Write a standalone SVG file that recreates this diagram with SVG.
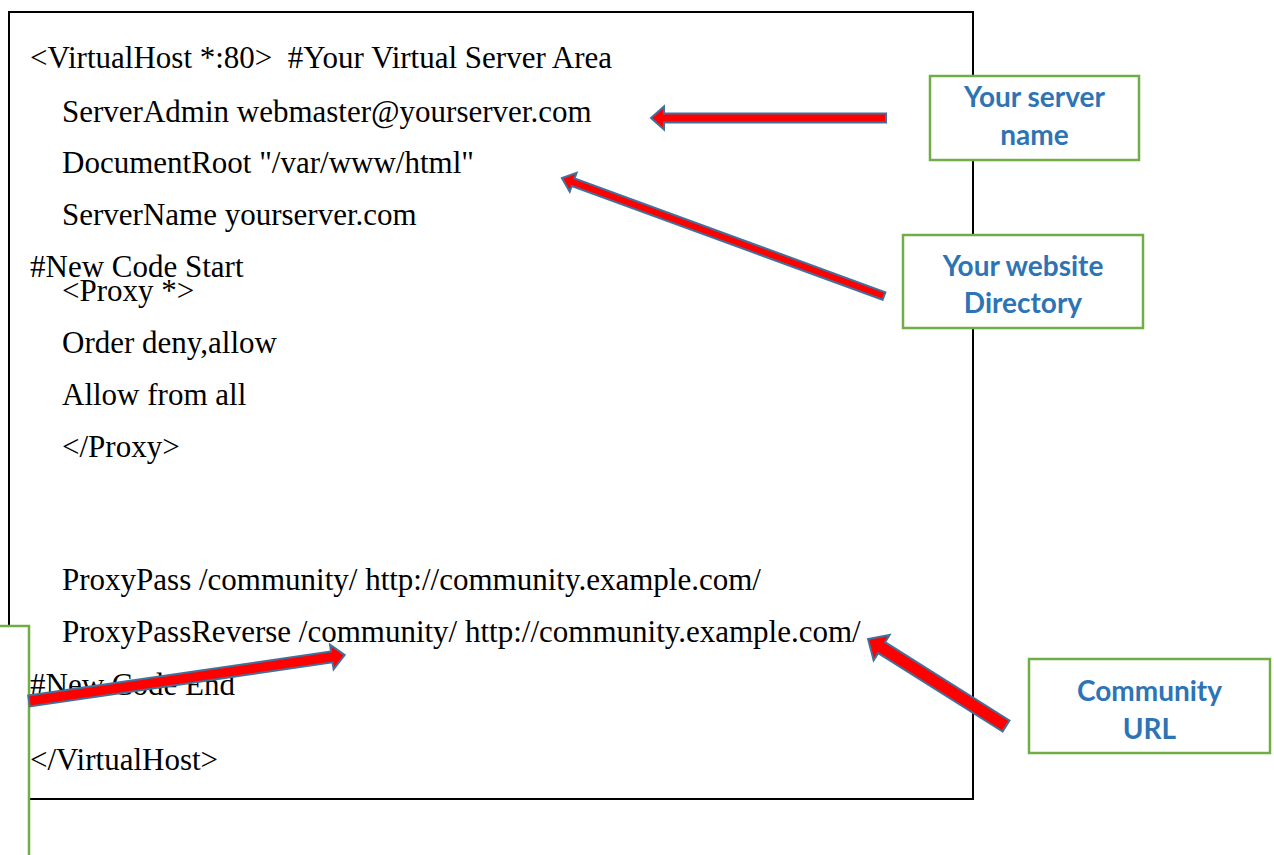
<svg xmlns="http://www.w3.org/2000/svg" width="1274" height="855" viewBox="0 0 1274 855">
<style>
.code{font-family:"Liberation Serif","Times New Roman",serif;font-size:31px;fill:#000}
.lbl{font-family:Lato,"Open Sans",sans-serif;font-weight:bold;font-size:28px;fill:#2E74B5;text-anchor:middle}
.gbox{fill:#fff;stroke:#70AD47;stroke-width:2.5}
.arrow{fill:#FF0000;stroke:#41719C;stroke-width:2;stroke-linejoin:miter}
</style>
<rect x="0" y="0" width="1274" height="855" fill="#fff"/>
<g id="code-box">
<rect x="9" y="12" width="964" height="787" fill="#fff" stroke="#000" stroke-width="2"/>
<text class="code" x="30" y="68" xml:space="preserve">&lt;VirtualHost *:80&gt;  #Your Virtual Server Area</text>
<text class="code" x="62" y="122">ServerAdmin webmaster@yourserver.com</text>
<text class="code" x="62" y="173">DocumentRoot "/var/www/html"</text>
<text class="code" x="62" y="225">ServerName yourserver.com</text>
<text class="code" x="30" y="277">#New Code Start</text>
<text class="code" x="62" y="301">&lt;Proxy *&gt;</text>
<text class="code" x="62" y="353">Order deny,allow</text>
<text class="code" x="62" y="405">Allow from all</text>
<text class="code" x="62" y="457">&lt;/Proxy&gt;</text>
<text class="code" x="62" y="590">ProxyPass /community/ http://community.example.com/</text>
<text class="code" x="62" y="642">ProxyPassReverse /community/ http://community.example.com/</text>
<text class="code" x="30" y="695">#New Code End</text>
<text class="code" x="30" y="770">&lt;/VirtualHost&gt;</text>
</g>
<g id="label-server-name">
<rect class="gbox" x="930" y="76" width="209" height="84"/>
<text class="lbl" x="1034.5" y="107">Your server</text>
<text class="lbl" x="1034.5" y="145">name</text>
</g>
<g id="label-website-directory">
<rect class="gbox" x="903" y="235" width="240" height="93"/>
<text class="lbl" x="1023" y="276">Your website</text>
<text class="lbl" x="1023" y="313">Directory</text>
</g>
<g id="label-community-url">
<rect class="gbox" x="1029" y="659" width="241" height="94"/>
<text class="lbl" x="1149.5" y="701">Community</text>
<text class="lbl" x="1149.5" y="739">URL</text>
</g>
<g id="label-left">
<rect class="gbox" x="-200" y="626" width="229" height="300"/>
</g>
<g id="connectors">
<polygon class="arrow" transform="translate(886,118) rotate(180)" points="0,-4.5 222,-4.5 222,-11.5 235,0 222,11.5 222,4.5 0,4.5"/>
<polygon class="arrow" transform="translate(884,296) rotate(200.1)" points="0,-4 331,-4 331,-10 343,0 331,10 331,4 0,4"/>
<polygon class="arrow" transform="translate(1006,726) rotate(212.2)" points="0,-6.5 147,-6.5 147,-15 163,0 147,15 147,6.5 0,6.5"/>
<polygon class="arrow" transform="translate(29,701) rotate(-8.28)" points="0,-5.5 306,-5.5 306,-12.5 319,0 306,12.5 306,5.5 0,5.5"/>
</g>
</svg>
